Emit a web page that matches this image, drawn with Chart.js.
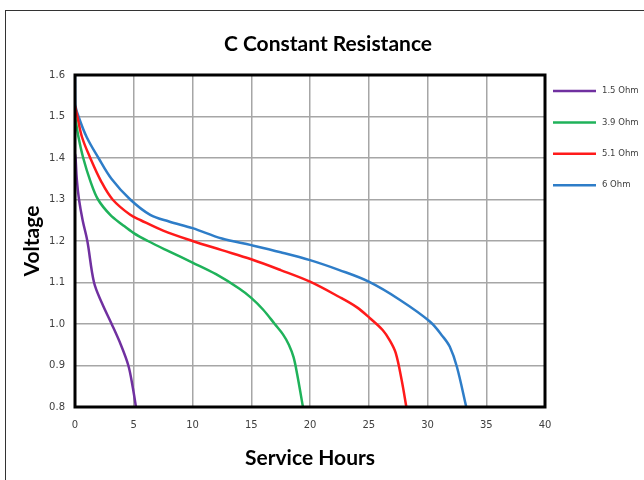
<!DOCTYPE html>
<html>
<head>
<meta charset="utf-8">
<script src="https://cdn.jsdelivr.net/npm/chart.js@4/dist/chart.umd.min.js"></script>
<style>
  body { margin: 0; background: #fff; }
  #wrap { position: relative; width: 644px; height: 480px; overflow: hidden; }
  #frame { position: absolute; left: 5px; top: 10px; width: 700px; height: 600px; border: 1px solid #333; }
  canvas { position: absolute; left: 0; top: 0; }
</style>
</head>
<body>
<div id="wrap">
  <div id="frame"></div>
  <canvas id="chart" width="644" height="480"></canvas>
</div>
<script>
(function () {
  "use strict";

  const seriesLabels = ["1.5 Ohm", "3.9 Ohm", "5.1 Ohm", "6 Ohm"];

  const hours15 = [0, 0.05, 0.15, 0.34, 0.65, 1.05, 1.62, 2.3, 3.12, 3.9, 4.54, 4.9, 5.19];
  const volts15 = [1.41, 1.4, 1.35, 1.3, 1.25, 1.2, 1.1, 1.05, 1.0, 0.95, 0.9, 0.85, 0.8];

  const hours39 = [0, 0.3, 0.7, 1.3, 1.96, 3.0, 4.0, 5.0, 6.2, 8, 10, 12, 14, 15, 16, 17, 17.7, 18.2, 18.6, 18.9, 19.4];
  const volts39 = [1.5, 1.45, 1.4, 1.345, 1.3, 1.263, 1.24, 1.219, 1.2, 1.175, 1.148, 1.12, 1.085, 1.063, 1.035, 1.0, 0.975, 0.95, 0.92, 0.88, 0.8];

  const hours51 = [0, 0.2, 0.6, 1.3, 2.2, 3.2, 4.7, 5.6, 7.5, 10, 12.5, 15, 17.5, 20, 22.5, 24, 25.1, 26.2, 26.8, 27.3, 27.8, 28.2];
  const volts51 = [1.525, 1.5, 1.45, 1.4, 1.345, 1.3, 1.263, 1.25, 1.225, 1.2, 1.178, 1.156, 1.13, 1.102, 1.065, 1.04, 1.014, 0.985, 0.96, 0.93, 0.865, 0.8];

  const hours6 = [0, 0.02, 0.3, 1.0, 2.0, 3.1, 4.7, 6.4, 8, 10, 12.5, 15, 17.5, 20, 22.5, 25, 27.66, 30.2, 31.3, 31.9, 32.5, 33.3];
  const volts6 = [1.6, 1.53, 1.5, 1.45, 1.4, 1.35, 1.3, 1.263, 1.247, 1.231, 1.206, 1.19, 1.173, 1.154, 1.13, 1.102, 1.058, 1.006, 0.97, 0.945, 0.897, 0.8];

  const seriesHours = [hours15, hours39, hours51, hours6];
  const seriesVolts = [volts15, volts39, volts51, volts6];
  const colors = ["#7030a0", "#1fb25a", "#ff1a1a", "#2e7dc8"];

  const titleFont = "Lato, 'Open Sans', sans-serif";
  const tickFont = "'DejaVu Sans', Verdana, sans-serif";

  const datasets = seriesLabels.map((label, i) => ({
    label: label,
    data: seriesHours[i].map((h, j) => ({ x: h, y: seriesVolts[i][j] })),
    borderColor: colors[i],
    backgroundColor: colors[i],
    borderWidth: 2.5,
    pointRadius: 0,
    tension: 0.35,
    fill: false,
  }));

  // plot frame + legend on the right
  const framePlugin = {
    id: "framePlugin",
    afterDatasetsDraw(chart) {
      const { ctx, chartArea } = chart;
      ctx.save();
      ctx.strokeStyle = "#000";
      ctx.lineWidth = 3;
      ctx.strokeRect(chartArea.left, chartArea.top,
        chartArea.right - chartArea.left, chartArea.bottom - chartArea.top);
      ctx.restore();
    },
    afterDraw(chart) {
      const { ctx, chartArea } = chart;
      ctx.save();
      ctx.font = "8.5px " + tickFont;
      ctx.textBaseline = "middle";
      chart.data.datasets.forEach((ds, i) => {
        const y = chartArea.top + 16 + i * 31.4;
        const x0 = chartArea.right + 8;
        ctx.strokeStyle = ds.borderColor;
        ctx.lineWidth = 2.5;
        ctx.beginPath();
        ctx.moveTo(x0, y);
        ctx.lineTo(x0 + 43, y);
        ctx.stroke();
        ctx.fillStyle = "#404040";
        ctx.fillText(ds.label, x0 + 49, y);
      });
      ctx.restore();
    },
  };

  const ctx = document.getElementById("chart").getContext("2d");
  new Chart(ctx, {
    type: "line",
    data: { datasets: datasets },
    plugins: [framePlugin],
    options: {
      responsive: false,
      animation: false,
      layout: { padding: { left: 12, right: 0, top: 0, bottom: 0 } },
      plugins: {
        legend: { display: false },
        tooltip: { enabled: false },
        title: {
          display: true,
          text: "C Constant Resistance",
          color: "#000",
          font: { family: titleFont, size: 21, weight: "bold", lineHeight: 1.2 },
          padding: { top: 31.4, bottom: 18.4 },
        },
      },
      scales: {
        x: {
          type: "linear",
          min: 0,
          max: 40,
          ticks: { stepSize: 5, color: "#404040", padding: 12, font: { family: tickFont, size: 10 } },
          grid: { color: "#a6a6a6", lineWidth: 1.5, drawTicks: false },
          border: { display: false },
          title: {
            display: true,
            text: "Service Hours",
            color: "#000",
            font: { family: titleFont, size: 21, weight: "bold", lineHeight: 1.2 },
            padding: { top: 0, bottom: 9.4 },
          },
          afterFit(scale) { scale.height = 73; },
        },
        y: {
          min: 0.8,
          max: 1.6,
          ticks: {
            stepSize: 0.1,
            color: "#404040",
            padding: 10,
            font: { family: tickFont, size: 10 },
            callback: (v) => Number(v).toFixed(1),
          },
          grid: { color: "#a6a6a6", lineWidth: 1.5, drawTicks: false },
          border: { display: false },
          title: {
            display: true,
            text: "Voltage",
            color: "#000",
            font: { family: titleFont, size: 21, weight: "bold", lineHeight: 1.2 },
            padding: { top: 7.4, bottom: 0 },
          },
          afterFit(scale) { scale.width = 63; },
        },
        side: {
          position: "right",
          display: true,
          grid: { display: false },
          border: { display: false },
          ticks: { display: false },
          afterFit(scale) { scale.width = 99; },
        },
      },
    },
  });
})();
</script>
</body>
</html>
